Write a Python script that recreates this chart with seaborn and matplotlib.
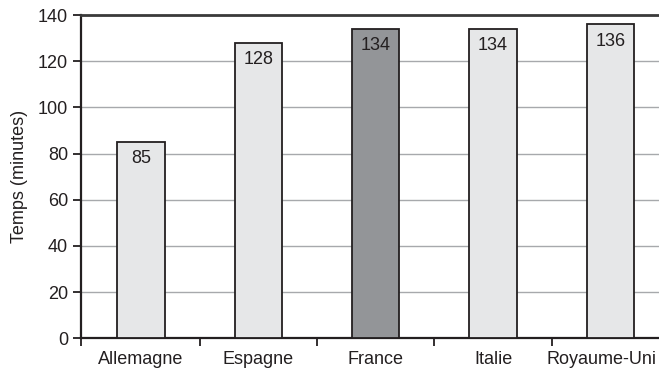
import matplotlib
matplotlib.use("Agg")
import matplotlib.pyplot as plt
from matplotlib.ticker import FixedLocator, MultipleLocator
from matplotlib.transforms import ScaledTranslation
import seaborn as sns
import pandas as pd

# Average time per country
pays = ["Allemagne", "Espagne", "France", "Italie", "Royaume-Uni"]
temps = [85, 128, 134, 134, 136]
couleurs = ["#e6e7e8", "#e6e7e8", "#939598", "#e6e7e8", "#e6e7e8"]

sns.set_theme(style="white")
plt.rcParams["font.family"] = ["Liberation Sans", "DejaVu Sans"]

df = pd.DataFrame({"pays": pays, "temps": temps})

x_min = -0.515
fig = plt.figure(figsize=(6.59, 3.75), dpi=100)
# axes run slightly past the right edge of the figure
ax = fig.add_axes([80.7 / 659, 1 - 338.3 / 375, (4.5 - x_min) * 117.3 / 659,
                   (338.3 - 15) / 375])

sns.barplot(data=df, x="pays", y="temps", hue="pays", palette=couleurs,
            order=pays, hue_order=pays, width=0.405, legend=False,
            edgecolor="#231f20", linewidth=1.3, saturation=1, ax=ax, zorder=3)

ax.set_xlim(x_min, len(pays) - 0.5)
ax.set_ylim(0, 140)
ax.yaxis.set_major_locator(MultipleLocator(20))
ax.grid(axis="y", color="#a7a9ac", linewidth=1.0, zorder=0)
ax.grid(axis="x", visible=False)

for i, v in enumerate(temps):
    ax.text(i, v - 3.6, f"{v}", ha="center", va="top", fontsize=13,
            color="#231f20", zorder=4)

for side in ["left", "bottom", "top"]:
    ax.spines[side].set_visible(True)
    ax.spines[side].set_color("#231f20")
ax.spines["left"].set_linewidth(1.6)
ax.spines["bottom"].set_linewidth(1.6)
ax.spines["top"].set_linewidth(2.0)
ax.spines["top"].set_color("#3a3a3a")
ax.spines["right"].set_visible(False)

ax.xaxis.set_minor_locator(FixedLocator([x_min] + [i + 0.5 for i in range(len(pays) - 1)]))
ax.tick_params(axis="x", which="major", length=0, pad=9, labelsize=13,
               labelcolor="#231f20")
ax.tick_params(axis="x", which="minor", bottom=True, length=6, width=1.3,
               color="#231f20", direction="out")
ax.tick_params(axis="y", left=True, length=6, width=1.3, color="#231f20",
               direction="out", pad=3, labelsize=13, labelcolor="#231f20")

# keep the last category name inside the figure
last = ax.get_xticklabels()[-1]
last.set_transform(last.get_transform() + ScaledTranslation(-6 / 72, 0, fig.dpi_scale_trans))

ax.set_xlabel("")
ax.set_ylabel("Temps (minutes)", fontsize=13, color="#231f20", labelpad=7)

fig.savefig("out.png", dpi=100)
